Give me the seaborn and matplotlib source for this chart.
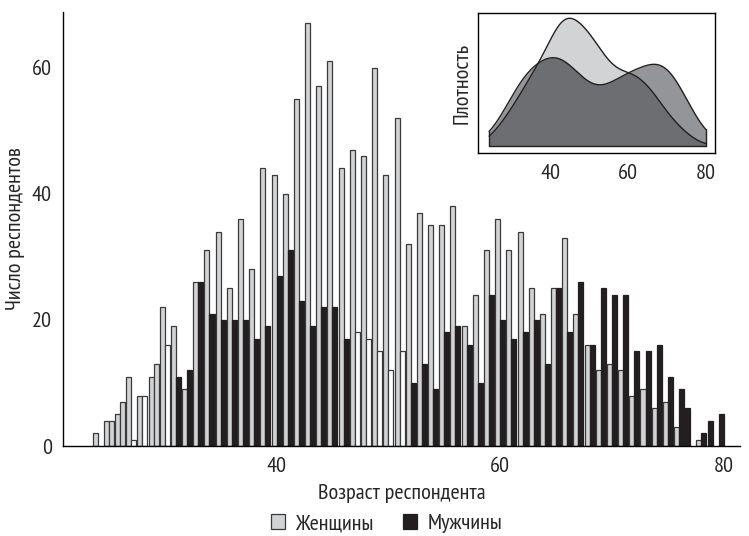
import numpy as np
import pandas as pd
import matplotlib
matplotlib.use("Agg")
import matplotlib.pyplot as plt
import seaborn as sns
from matplotlib.patches import Patch

# ---------------- data ----------------
ages = list(range(24, 81))
women = [2, 4, 5, 11, 8, 11, 22, 19, 9, 26,
         31, 34, 25, 36, 28, 44, 43, 40, 55, 67,
         57, 61, 44, 47, 46, 60, 43, 52, 32, 37,
         35, 35, 38, 19, 24, 31, 36, 31, 34, 25,
         21, 25, 33, 21, 16, 12, 13, 12, 8, 9,
         6, 7, 3, 0, 1, 0, 0]
men = [0, 4, 7, 1, 8, 13, 16, 11, 12, 26,
       21, 20, 20, 20, 17, 19, 27, 31, 23, 19,
       22, 22, 17, 18, 17, 15, 12, 15, 10, 13,
       9, 18, 19, 16, 10, 24, 20, 17, 18, 20,
       13, 25, 18, 26, 16, 25, 24, 24, 15, 15,
       16, 11, 9, 6, 2, 4, 5]
groups = ["Женщины", "Мужчины"]
x_ticks = [40, 60, 80]
y_ticks = [0, 20, 40, 60]

# ---------------- style ----------------
GRAY = "#d1d3d4"
BLACK = "#231f20"
EDGE = "#3a3a3a"
MID = "#939598"
DARK = "#6d6e71"
# shade of the men's bars as printed in the reference
men_shade = {25: GRAY, 26: GRAY, 27: "white", 28: "white", 29: GRAY, 30: "white",
             47: "white", 48: "white", 49: "white", 50: "white", 51: "white"}

sns.set_style("white")
plt.rcParams["font.family"] = ["PT Sans Narrow", "Roboto Condensed", "DejaVu Sans"]
FS = 16
plt.rcParams["font.size"] = FS

df = pd.DataFrame({"age": ages * 2,
                   "count": women + men,
                   "sex": [groups[0]] * len(ages) + [groups[1]] * len(ages)})

fig = plt.figure(figsize=(7.49, 5.36), dpi=100)
ax = fig.add_axes([63 / 749, 1 - 446 / 536, (740 - 63) / 749, (446 - 12) / 536])

bw = 0.45
for a, w, m in zip(ages, women, men):
    vals = []
    if w > 0:
        vals.append((w, GRAY, EDGE))
    if m > 0:
        c = men_shade.get(a, BLACK)
        vals.append((m, c, EDGE if c != BLACK else BLACK))
    offs = [-bw / 2, bw / 2]
    for (v, fc, ec), o in zip(vals, offs):
        ax.bar(a + o, v, width=bw, color=fc, edgecolor=ec, linewidth=0.9, zorder=2)

ax.set_xlim(20.9, 81.45)
ax.set_ylim(0, 68.8)
ax.set_xticks(x_ticks)
ax.set_yticks(y_ticks)
ax.tick_params(direction="out", length=5, width=1, labelsize=FS, pad=3, color="black")
for s in ["top", "right"]:
    ax.spines[s].set_visible(False)
for s in ["left", "bottom"]:
    ax.spines[s].set_color("black")
    ax.spines[s].set_linewidth(1)
ax.set_xlabel("Возраст респондента", fontsize=FS, labelpad=6)
ax.set_ylabel("Число респондентов", fontsize=FS)
ax.yaxis.set_label_coords(-0.056, 0.5)

# legend
handles = [Patch(facecolor=GRAY, edgecolor=EDGE, linewidth=0.9, label=groups[0]),
           Patch(facecolor=BLACK, edgecolor=BLACK, linewidth=0.9, label=groups[1])]
fig.legend(handles=handles, loc="center", bbox_to_anchor=(0.516, 0.023), ncol=2,
           frameon=False, fontsize=FS, handlelength=0.65, handleheight=0.65,
           handletextpad=0.45, columnspacing=1.3)

# ---------------- inset density ----------------
axin = fig.add_axes([478.3 / 749, 1 - 152.7 / 536, (715.3 - 478.3) / 749, (152.7 - 13.3) / 536])
sub_w = df[df.sex == groups[0]]
sub_m = df[df.sex == groups[1]]
sns.kdeplot(x=sub_w["age"], weights=sub_w["count"], ax=axin, cut=3, clip=(24, 80),
            gridsize=300, bw_adjust=0.6, color=BLACK, linewidth=1)
sns.kdeplot(x=sub_m["age"], weights=sub_m["count"], ax=axin, cut=3, clip=(24, 80),
            gridsize=300, bw_adjust=0.6, color=BLACK, linewidth=1)
xw, yw = axin.lines[0].get_data()
xm, ym = axin.lines[1].get_data()
grid = np.linspace(24, 80, 400)
yw_g = np.interp(grid, xw, yw, left=0, right=0)
ym_g = np.interp(grid, xm, ym, left=0, right=0)
axin.fill_between(grid, 0, yw_g, color=GRAY, lw=0, zorder=1)
axin.fill_between(grid, 0, ym_g, color=MID, lw=0, zorder=1.1)
axin.fill_between(grid, 0, np.minimum(yw_g, ym_g), color=DARK, lw=0, zorder=1.2)
for ln in axin.lines:
    ln.set_zorder(3)
axin.plot([24, 24], [0, max(ym_g[0], yw_g[0])], color=BLACK, lw=1, zorder=3)
axin.plot([80, 80], [0, max(ym_g[-1], yw_g[-1])], color=BLACK, lw=1, zorder=3)
axin.plot([24, 80], [0, 0], color=BLACK, lw=1, zorder=3)
peak = max(yw_g.max(), ym_g.max())
axin.set_ylim(-peak * 7 / 127.4, peak * (1 + 5 / 127.4))
axin.set_xlim(21.2, 82.5)
axin.set_xticks(x_ticks)
axin.set_yticks([])
axin.set_xlabel("")
axin.set_ylabel("Плотность", fontsize=FS, labelpad=5)
axin.tick_params(axis="x", direction="out", length=5, width=1, labelsize=FS, pad=3, color="black")
for s in axin.spines.values():
    s.set_visible(True)
    s.set_color("black")
    s.set_linewidth(1)

fig.savefig("out.png", dpi=100)
